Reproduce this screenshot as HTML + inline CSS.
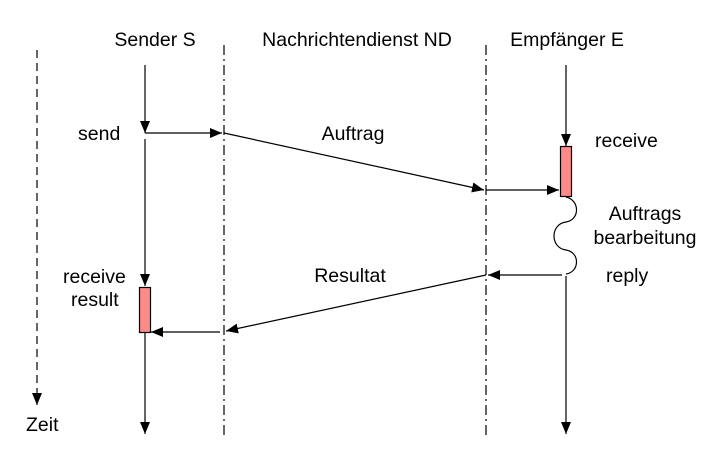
<!DOCTYPE html>
<html><head><style>body{margin:0;background:#fff}svg{display:block}text{font-family:"Liberation Sans",Arial,sans-serif;font-size:19.5px;fill:#000}</style></head>
<body>
<svg width="714" height="458" viewBox="0 0 714 458">
<defs><marker id="a" markerWidth="12" markerHeight="10" refX="12" refY="5" orient="auto" markerUnits="userSpaceOnUse"><path d="M0,0 L12,5 L0,10 z" fill="#000"/></marker></defs>
<g stroke="#000" stroke-width="1.2" fill="none">
<line x1="37" y1="50" x2="37" y2="405" stroke-dasharray="8,5" marker-end="url(#a)"/>
<line x1="224" y1="45" x2="224" y2="436" stroke-dasharray="10,4,2,4"/>
<line x1="486" y1="45" x2="486" y2="436" stroke-dasharray="10,4,2,4"/>
<line x1="145" y1="65" x2="145" y2="133" marker-end="url(#a)"/>
<line x1="145" y1="133" x2="222" y2="133" marker-end="url(#a)"/>
<line x1="145" y1="139" x2="145" y2="286" marker-end="url(#a)"/>
<line x1="145" y1="333" x2="145" y2="434" marker-end="url(#a)"/>
<line x1="224" y1="133" x2="484" y2="190" marker-end="url(#a)"/>
<line x1="486" y1="190" x2="559" y2="190" marker-end="url(#a)"/>
<line x1="566" y1="65" x2="566" y2="146" marker-end="url(#a)"/>
<path d="M566,197 C580,200 580,220 566,222 C550,224 550,248 566,250 C580,252 580,272 566,274"/>
<line x1="562" y1="275" x2="488" y2="275" marker-end="url(#a)"/>
<line x1="486" y1="275" x2="226" y2="331" marker-end="url(#a)"/>
<line x1="220" y1="332" x2="151" y2="332" marker-end="url(#a)"/>
<line x1="566" y1="276" x2="566" y2="434" marker-end="url(#a)"/>
<rect x="139.5" y="287.5" width="11" height="45" fill="#ff8a8a"/>
<rect x="560.5" y="146.5" width="11" height="50" fill="#ff8a8a"/>
</g>
<text x="155" y="46" text-anchor="middle">Sender S</text>
<text x="357" y="46" text-anchor="middle">Nachrichtendienst ND</text>
<text x="567" y="46" text-anchor="middle">Empfänger E</text>
<text x="78" y="140">send</text>
<text x="353" y="140" text-anchor="middle">Auftrag</text>
<text x="595" y="147">receive</text>
<text x="645" y="220" text-anchor="middle">Auftrags</text>
<text x="645" y="244" text-anchor="middle">bearbeitung</text>
<text x="606" y="282">reply</text>
<text x="350" y="282" text-anchor="middle">Resultat</text>
<text x="63" y="283">receive</text>
<text x="71" y="306">result</text>
<text x="26" y="431">Zeit</text>
</svg>
</body></html>
